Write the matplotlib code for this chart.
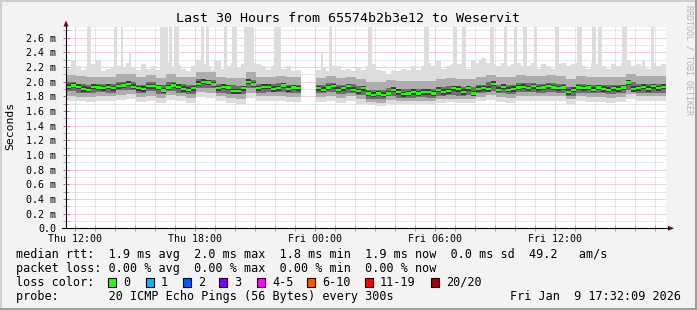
import numpy as np
import matplotlib
matplotlib.use("Agg")
import matplotlib.pyplot as plt
import matplotlib.dates as mdates
from matplotlib.ticker import MultipleLocator, FuncFormatter
from matplotlib.lines import Line2D
from matplotlib.patches import Polygon, Rectangle
from datetime import datetime, timedelta

nan = np.nan

# ---------------- data ----------------
start_time = datetime(2026, 1, 8, 11, 32, 9)
slot_minutes = 15

# median rtt (ms), one value per 15 minutes
median_ms = [
    1.93, 1.95, 1.93, 1.90, 1.89, 1.93, 1.92, 1.91, 1.93, 1.91, 1.94, 1.95,
    1.97, 1.93, 1.91, 1.90, 1.94, 1.94, 1.92, 1.88, 1.92, 1.95, 1.93, 1.90,
    1.89, 1.91, 1.97, 2.00, 1.99, 1.96, 1.91, 1.93, 1.92, 1.87, 1.87, 1.91,
    2.00, 1.96, 1.91, 1.93, 1.93, 1.90, 1.91, 1.95, 1.90, 1.92, 1.91, nan,
    nan, nan, 1.91, 1.89, 1.92, 1.94, 1.89, 1.91, 1.94, 1.89, 1.87, 1.91,
    1.84, 1.82, 1.84, 1.82, 1.84, 1.89, 1.86, 1.83, 1.84, 1.86, 1.84, 1.86,
    1.86, 1.84, 1.89, 1.86, 1.87, 1.91, 1.90, 1.86, 1.91, 1.84, 1.90, 1.91,
    1.90, 1.97, 1.89, 1.93, 1.89, 1.90, 1.92, 1.93, 1.91, 1.94, 1.91, 1.92,
    1.94, 1.92, 1.91, 1.92, 1.86, 1.89, 1.92, 1.91, 1.92, 1.89, 1.92, 1.90,
    1.89, 1.91, 1.90, 1.92, 1.99, 1.90, 1.91, 1.93, 1.90, 1.94, 1.91, 1.93,
]

# upper edge of the common smoke per 15 minutes (ms)
upper_ms = [
    2.18, 2.28, 2.21, 2.16, 2.22, 2.24, 2.30, 2.14, 2.18, 2.20, 2.22, 2.19,
    2.26, 2.20, 2.16, 2.24, 2.18, 2.21, 2.16, 2.22, 2.25, 2.20, 2.23, 2.18,
    2.14, 2.21, 2.30, 2.24, 2.22, 2.16, 2.28, 2.18, 2.22, 2.25, 2.20, 2.24,
    2.30, 2.26, 2.24, 2.21, 2.16, 2.22, 2.25, 2.18, 2.21, 2.14, 2.16, nan,
    nan, nan, 2.16, 2.20, 2.14, 2.22, 2.21, 2.16, 2.18, 2.14, 2.20, 2.16,
    2.22, 2.24, 2.16, 2.14, 2.11, 2.16, 2.14, 2.18, 2.16, 2.21, 2.16, 2.22,
    2.25, 2.22, 2.28, 2.18, 2.21, 2.24, 2.24, 2.26, 2.18, 2.30, 2.26, 2.33,
    2.25, 2.24, 2.21, 2.26, 2.21, 2.24, 2.26, 2.22, 2.21, 2.25, 2.18, 2.24,
    2.21, 2.18, 2.24, 2.26, 2.21, 2.24, 2.26, 2.21, 2.18, 2.25, 2.24, 2.21,
    2.18, 2.24, 2.22, 2.26, 2.30, 2.21, 2.24, 2.22, 2.18, 2.25, 2.21, 2.24,
]

# single high pings: minutes after start, duration (minutes), top (ms)
spike_start_min = [63, 99, 144, 165, 189, 282, 309, 324, 405, 420, 444, 474,
                   498, 534, 624, 765, 789, 906, 1074, 1161, 1188, 1239, 1272,
                   1314, 1344, 1371, 1404, 1467, 1533, 1578, 1596, 1668, 1728, 1755]
spike_dur_min = [12, 6, 9, 6, 6, 24, 9, 15, 9, 9, 6, 9, 15, 30, 21, 6, 9, 12,
                 15, 12, 12, 15, 12, 9, 9, 12, 9, 12, 15, 12, 12, 15, 9, 9]
spike_top_ms = [2.8, 2.3, 2.8, 2.8, 2.41, 2.8, 2.8, 2.8, 2.8, 2.8, 2.3, 2.8,
                2.8, 2.8, 2.8, 2.4, 2.8, 2.8, 2.8, 2.8, 2.8, 2.3, 2.8, 2.8,
                2.8, 2.8, 2.8, 2.8, 2.8, 2.8, 2.8, 2.8, 2.3, 2.8]

# smoke percentiles (ms), one value per 30 minutes
low_ms = [
    1.74, 1.73, 1.72, 1.73, 1.73, 1.75, 1.76, 1.72, 1.74, 1.71, 1.75, 1.73,
    1.71, 1.79, 1.78, 1.73, 1.71, 1.70, 1.78, 1.73, 1.73, 1.74, 1.72, 1.72,
    nan, 1.72, 1.74, 1.71, 1.73, 1.70, 1.68, 1.67, 1.70, 1.69, 1.69, 1.69,
    1.69, 1.71, 1.72, 1.71, 1.71, 1.73, 1.75, 1.72, 1.71, 1.74, 1.74, 1.73,
    1.74, 1.73, 1.70, 1.73, 1.72, 1.72, 1.71, 1.72, 1.76, 1.73, 1.73, 1.73,
]
p10_ms = [
    1.81, 1.79, 1.79, 1.80, 1.80, 1.82, 1.83, 1.79, 1.81, 1.78, 1.82, 1.80,
    1.78, 1.86, 1.85, 1.80, 1.78, 1.77, 1.85, 1.80, 1.80, 1.81, 1.79, 1.79,
    nan, 1.79, 1.81, 1.78, 1.80, 1.77, 1.72, 1.71, 1.75, 1.73, 1.73, 1.74,
    1.73, 1.76, 1.77, 1.76, 1.76, 1.79, 1.82, 1.79, 1.78, 1.81, 1.81, 1.80,
    1.81, 1.80, 1.76, 1.80, 1.79, 1.79, 1.78, 1.79, 1.83, 1.80, 1.80, 1.80,
]
p30_ms = [
    1.87, 1.85, 1.84, 1.86, 1.85, 1.88, 1.89, 1.84, 1.87, 1.83, 1.87, 1.85,
    1.83, 1.92, 1.91, 1.85, 1.83, 1.83, 1.91, 1.85, 1.86, 1.86, 1.84, 1.85,
    nan, 1.84, 1.86, 1.83, 1.85, 1.82, 1.77, 1.76, 1.80, 1.78, 1.78, 1.79,
    1.78, 1.81, 1.82, 1.81, 1.82, 1.84, 1.87, 1.84, 1.83, 1.86, 1.86, 1.85,
    1.86, 1.85, 1.81, 1.85, 1.84, 1.84, 1.83, 1.84, 1.88, 1.85, 1.85, 1.85,
]
p70_ms = [
    1.99, 1.97, 1.96, 1.97, 1.97, 2.00, 2.00, 1.96, 1.99, 1.95, 1.99, 1.97,
    1.95, 2.04, 2.03, 1.97, 1.95, 1.94, 2.03, 1.97, 1.97, 1.98, 1.96, 1.96,
    nan, 1.95, 1.98, 1.95, 1.97, 1.94, 1.89, 1.88, 1.92, 1.90, 1.90, 1.90,
    1.90, 1.93, 1.94, 1.93, 1.93, 1.96, 1.99, 1.96, 1.95, 1.98, 1.98, 1.97,
    1.98, 1.97, 1.93, 1.97, 1.96, 1.96, 1.95, 1.96, 2.00, 1.97, 1.97, 1.97,
]
p90_ms = [
    2.09, 2.08, 2.06, 2.07, 2.07, 2.10, 2.11, 2.06, 2.09, 2.05, 2.10, 2.07,
    2.06, 2.13, 2.13, 2.07, 2.05, 2.05, 2.13, 2.07, 2.07, 2.08, 2.06, 2.07,
    nan, 2.05, 2.08, 2.05, 2.07, 2.04, 1.99, 1.99, 2.03, 2.01, 2.01, 2.01,
    2.01, 2.04, 2.05, 2.04, 2.04, 2.07, 2.09, 2.07, 2.06, 2.09, 2.08, 2.08,
    2.09, 2.08, 2.04, 2.08, 2.07, 2.07, 2.06, 2.07, 2.11, 2.08, 2.08, 2.08,
]

loss_labels = ["0", "1", "2", "3", "4-5", "6-10", "11-19", "20/20"]
loss_colors = ["#26ff00", "#00b8ff", "#0059ff", "#7e00ff", "#ff00ff",
               "#ff5500", "#ff0000", "#a10000"]

title = "Last 30 Hours from 65574b2b3e12 to Weservit"
legend_rows = [
    "median rtt:  1.9 ms avg  2.0 ms max  1.8 ms min  1.9 ms now  0.0 ms sd  49.2   am/s",
    "packet loss: 0.00 % avg  0.00 % max  0.00 % min  0.00 % now",
    "loss color:",
    "probe:       20 ICMP Echo Pings (56 Bytes) every 300s",
]
stamp = "Fri Jan  9 17:32:09 2026"

# ---------------- figure ----------------
W, H = 697, 310
fig = plt.figure(figsize=(W / 100, H / 100), dpi=100)
fig.patch.set_facecolor("#f3f3f3")
MONO = "DejaVu Sans Mono"


def fx(x):
    return x / W


def fy(y):
    return 1 - y / H


PL, PR, PT, PB = 66, 666, 26.7, 228.3
ax = fig.add_axes([fx(PL), fy(PB), (PR - PL) / W, (PB - PT) / H])
ax.set_facecolor("white")

med = np.array(median_ms, dtype=float)
up = np.array(upper_ms, dtype=float)
n = len(med)
lefts = mdates.date2num([start_time + timedelta(minutes=slot_minutes * i) for i in range(n)])
width = slot_minutes / (24 * 60)
valid = ~np.isnan(med)


def expand(a):
    e = np.repeat(np.array(a, dtype=float), 2)
    e[~valid] = nan
    return e


lo = expand(low_ms)
p10 = expand(p10_ms)
p30 = expand(p30_ms)
p70 = expand(p70_ms)
p90 = expand(p90_ms)

light = "#dddddd"
kw = dict(align="edge", linewidth=0, antialiased=False, zorder=2)
# spikes (single high pings)
sp_left = mdates.date2num([start_time + timedelta(minutes=m) for m in spike_start_min])
sp_w = np.array(spike_dur_min) / (24 * 60)
sp_top = np.array(spike_top_ms)
ax.bar(sp_left, sp_top - 1.9, bottom=1.9, width=sp_w, color=light, **kw)
# smoke layers
ax.bar(lefts, up - lo, bottom=lo, width=width, color=light, **kw)
ax.bar(lefts, p90 - p10, bottom=p10, width=width, color="#adadad", **kw)
ax.bar(lefts, p70 - p30, bottom=p30, width=width, color="#6e6e6e", **kw)
core = 0.035
ax.bar(lefts, np.full(n, 2 * core), bottom=med - core, width=width, color="#3c3c3c", **kw)
hw = 0.016
ax.bar(lefts, np.full(n, 2 * hw), bottom=med - hw, width=width, color=loss_colors[0], **kw)

t0 = mdates.date2num(start_time)
t1 = mdates.date2num(start_time + timedelta(hours=30))
ax.set_xlim(t0, t1)
ax.set_ylim(0, (PB - PT) / 73.3)

ax.xaxis.set_major_locator(mdates.HourLocator(byhour=[0, 6, 12, 18]))
ax.xaxis.set_minor_locator(mdates.HourLocator())
ax.xaxis.set_major_formatter(mdates.DateFormatter("%a %H:%M"))
ax.yaxis.set_major_locator(MultipleLocator(0.2))
ax.yaxis.set_minor_locator(MultipleLocator(0.1))
ax.yaxis.set_major_formatter(FuncFormatter(lambda v, p: "0.0" if abs(v) < 1e-9 else f"{v:.1f} m"))

ax.set_axisbelow(True)
ax.grid(which="major", color="#eaa4a4", linestyle=(0, (1, 1)), linewidth=0.72)
ax.grid(which="minor", color="#d2d2d2", linestyle=(0, (1, 1)), linewidth=0.72)
for s in ax.spines.values():
    s.set_visible(False)

ax.tick_params(which="major", direction="inout", length=4, width=0.72, color="#d86060",
               labelsize=7.2, pad=2)
ax.tick_params(which="minor", direction="inout", length=4, width=0.72, color="#a8a8a8")
ax.tick_params(axis="y", which="major", pad=5)
for lab in ax.get_xticklabels() + ax.get_yticklabels():
    lab.set_fontfamily(MONO)

# axes lines and arrows
fig.add_artist(Line2D([fx(PL), fx(PL)], [fy(PB), fy(25.5)], color="black", lw=0.8))
fig.add_artist(Line2D([fx(62), fx(669)], [fy(PB), fy(PB)], color="black", lw=0.8))
fig.add_artist(Polygon([(fx(63.5), fy(26.5)), (fx(68.5), fy(26.5)), (fx(66), fy(20.5))],
                       closed=True, color="#800000", lw=0))
fig.add_artist(Polygon([(fx(668), fy(PB - 2.5)), (fx(668), fy(PB + 2.5)), (fx(674), fy(PB))],
                       closed=True, color="#800000", lw=0))

# texts
fig.text(fx(347.5), fy(19), title, family=MONO, fontsize=9.6, ha="center", va="center")
fig.text(fx(10), fy(126), "Seconds", family=MONO, fontsize=8.2, rotation=90,
         ha="center", va="center")
fig.text(fx(688.5), fy(60), "RRDTOOL / TOBI OETIKER", family=MONO, fontsize=6.0,
         rotation=270, ha="center", va="center", color="#b4b4b4")

row_y = [254.3, 268.3, 282.3, 296.2]
for txt, yy in zip(legend_rows, row_y):
    fig.text(fx(16), fy(yy), txt, family=MONO, fontsize=8.5, ha="left", va="center")
fig.text(fx(680.5), fy(row_y[3]), stamp, family=MONO, fontsize=8.5, ha="right", va="center")

box_x = [108, 146, 183, 219, 257, 307, 365, 431]
for bx, lab, col in zip(box_x, loss_labels, loss_colors):
    fig.add_artist(Rectangle((fx(bx), fy(row_y[2] + 4.2)), 8.4 / W, 8.4 / H,
                             facecolor=col, edgecolor="black", lw=0.8))
    fig.text(fx(bx + 15), fy(row_y[2]), lab, family=MONO, fontsize=8.5,
             ha="left", va="center")

# frame shading
fig.add_artist(Line2D([0, 1], [fy(0.5), fy(0.5)], color="#cfcfcf", lw=1.5))
fig.add_artist(Line2D([fx(0.5), fx(0.5)], [0, 1], color="#cfcfcf", lw=1.5))
fig.add_artist(Line2D([0, 1], [fy(H - 1), fy(H - 1)], color="#9e9e9e", lw=1.5))
fig.add_artist(Line2D([fx(W - 1), fx(W - 1)], [0, 1], color="#9e9e9e", lw=1.5))

fig.savefig("out.png", dpi=100, facecolor=fig.get_facecolor())
